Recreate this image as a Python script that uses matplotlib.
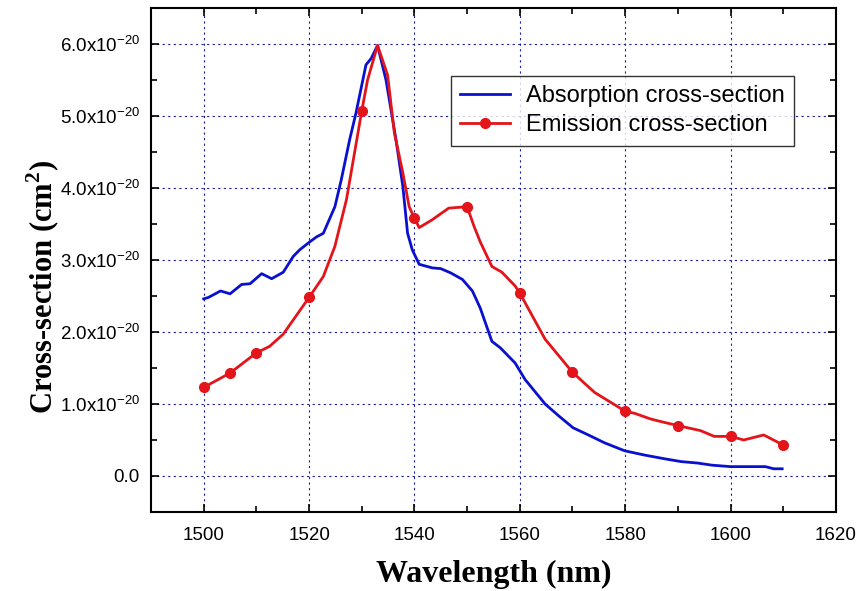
import matplotlib
matplotlib.use('Agg')
import matplotlib.pyplot as plt
from matplotlib.ticker import MultipleLocator, FixedLocator

plt.rcParams['mathtext.fontset'] = 'custom'
plt.rcParams['mathtext.rm'] = 'Liberation Sans'
plt.rcParams['mathtext.it'] = 'Liberation Sans'
plt.rcParams['mathtext.bf'] = 'Liberation Serif:bold'

# Absorption cross-section (units of 1e-20 cm^2)
abs_wl = [1500.0, 1500.9, 1503.2, 1505.0, 1507.2, 1508.8, 1511.0, 1512.9, 1515.1,
          1517.0, 1518.2, 1520.1, 1521.4, 1522.7, 1524.9, 1526.1, 1527.7, 1528.9,
          1530.8, 1531.8, 1533.0, 1534.6, 1536.5, 1537.8, 1538.7, 1539.6, 1540.9,
          1543.4, 1545.0, 1546.9, 1549.1, 1551.0, 1552.5, 1554.7, 1556.3, 1559.1,
          1561.0, 1564.8, 1567.3, 1570.1, 1573.0, 1576.1, 1579.9, 1583.7, 1587.4,
          1590.6, 1593.7, 1596.5, 1600.0, 1606.6, 1608.2, 1609.8]
abs_cs = [2.46, 2.48, 2.57, 2.53, 2.66, 2.67, 2.81, 2.74, 2.83,
          3.05, 3.14, 3.25, 3.32, 3.37, 3.74, 4.11, 4.67, 5.04,
          5.71, 5.80, 5.98, 5.50, 4.67, 4.02, 3.37, 3.14, 2.94,
          2.89, 2.88, 2.82, 2.73, 2.57, 2.33, 1.87, 1.78, 1.57,
          1.34, 1.00, 0.84, 0.67, 0.57, 0.46, 0.35, 0.29, 0.24,
          0.20, 0.18, 0.15, 0.13, 0.13, 0.10, 0.10]

# Emission cross-section (units of 1e-20 cm^2)
em_wl = [1500, 1505, 1510, 1512.5, 1515.1, 1520, 1522.7, 1524.9, 1527.1, 1530,
         1531.1, 1533.0, 1534.9, 1536.2, 1537.8, 1539.0, 1540, 1540.9, 1543.4,
         1546.5, 1550, 1551.3, 1552.5, 1554.7, 1556.6, 1559.1, 1560, 1564.8,
         1570, 1574.2, 1580, 1581.8, 1584.9, 1587.1, 1590, 1594.3, 1596.9,
         1600, 1602.5, 1606.3, 1610]
em_cs = [1.23, 1.43, 1.71, 1.80, 1.97, 2.48, 2.77, 3.19, 3.84, 5.07,
         5.50, 5.98, 5.57, 4.76, 4.21, 3.74, 3.58, 3.45, 3.56,
         3.72, 3.74, 3.47, 3.25, 2.91, 2.83, 2.64, 2.54, 1.90,
         1.44, 1.16, 0.90, 0.87, 0.79, 0.75, 0.70, 0.63, 0.55,
         0.55, 0.50, 0.57, 0.43]
em_marker_wl = [1500, 1505, 1510, 1520, 1530, 1540, 1550, 1560, 1570, 1580,
                1590, 1600, 1610]

x_ticks = [1500, 1520, 1540, 1560, 1580, 1600, 1620]
y_ticks = [0, 1, 2, 3, 4, 5, 6]
y_tick_labels = ['0.0'] + ['%d.0x10$^{-20}$' % v for v in y_ticks[1:]]

marker_idx = [em_wl.index(w) for w in em_marker_wl]

fig = plt.figure(figsize=(8.6, 5.91), dpi=100)
ax = fig.add_axes([0.1756, 0.1337, 0.7964, 0.8528])

ax.plot(abs_wl, abs_cs, color='#0a10d0', lw=2.0, label='Absorption cross-section')
ax.plot(em_wl, em_cs, color='#e3141a', lw=2.0, marker='o', markersize=7,
        markevery=marker_idx, label='Emission cross-section')

ax.set_xlim(1490, 1620)
ax.set_ylim(-0.5, 6.5)
ax.xaxis.set_major_locator(FixedLocator(x_ticks))
ax.xaxis.set_minor_locator(MultipleLocator(10))
ax.yaxis.set_major_locator(FixedLocator(y_ticks))
ax.yaxis.set_minor_locator(MultipleLocator(0.5))
ax.set_yticklabels(y_tick_labels)

ax.tick_params(which='both', direction='in', top=True, right=True,
               labelsize=13.5, width=1.2)
ax.tick_params(which='major', length=6)
ax.tick_params(which='minor', length=4)
for lab in ax.get_xticklabels() + ax.get_yticklabels():
    lab.set_family('Liberation Sans')
ax.tick_params(axis='x', pad=11)
ax.tick_params(axis='y', pad=8)

for s in ax.spines.values():
    s.set_linewidth(1.5)

ax.grid(True, which='major', color='#2020a0', linestyle=(0, (2, 3)), lw=0.8)

ax.set_xlabel('Wavelength (nm)', family='Liberation Serif', fontweight='bold',
              fontsize=23, labelpad=11)
ax.set_ylabel('Cross-section (cm$^{\\mathbf{2}}$)', family='Liberation Serif',
              fontweight='bold', fontsize=22)
ax.yaxis.set_label_coords(-0.13, 0.446)

leg = ax.legend(loc='upper left', bbox_to_anchor=(0.4375, 0.865),
                prop={'family': 'Liberation Sans', 'size': 17},
                frameon=True, fancybox=False, edgecolor='black',
                handlelength=2.1, handletextpad=0.7, borderpad=0.4,
                labelspacing=0.28, borderaxespad=0)
leg.get_frame().set_linewidth(1.0)

fig.savefig('out.png', dpi=100)
